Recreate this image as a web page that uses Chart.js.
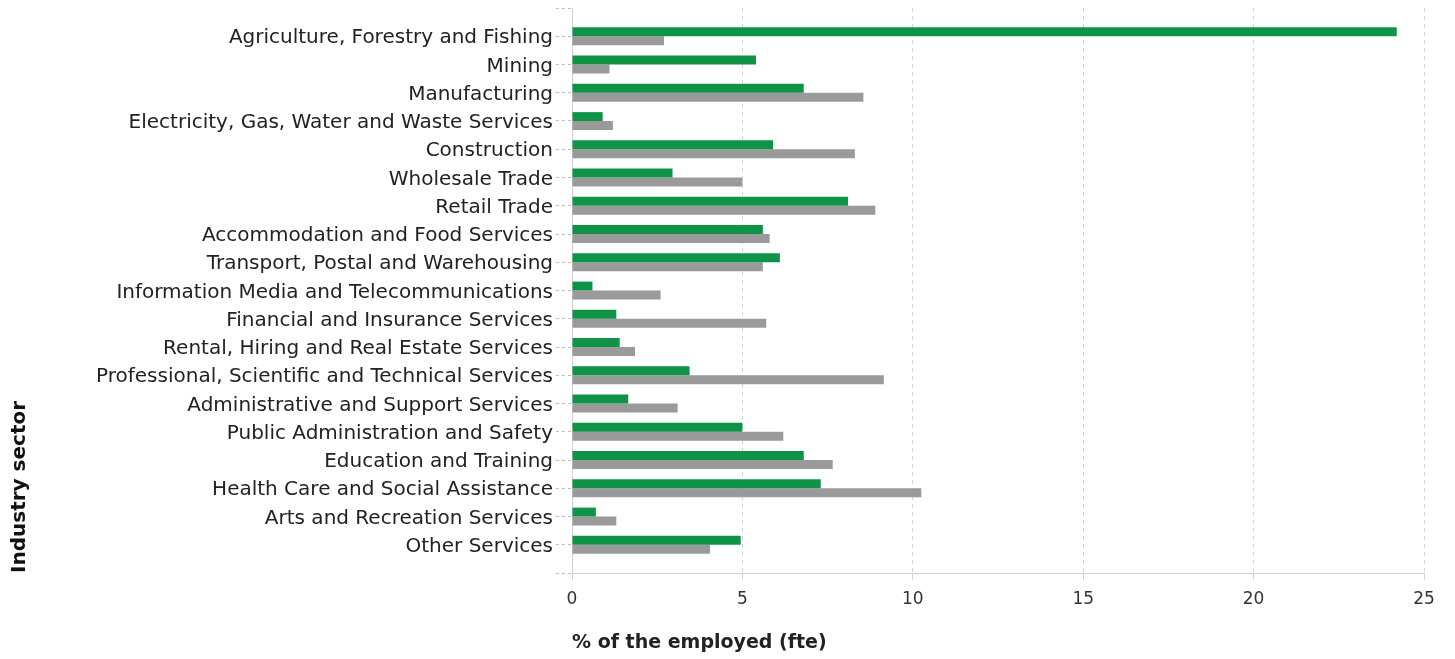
<!DOCTYPE html>
<html>
<head>
<meta charset="utf-8">
<script src="https://cdn.jsdelivr.net/npm/chart.js@4/dist/chart.umd.min.js"></script>
<style>
  html, body { margin: 0; padding: 0; background: #fff; }
  #wrap { width: 1455px; height: 659px; position: relative; }
</style>
</head>
<body>
<div id="wrap"><canvas id="myChart"></canvas></div>
<script>
const sectors = [
  'Agriculture, Forestry and Fishing',
  'Mining',
  'Manufacturing',
  'Electricity, Gas, Water and Waste Services',
  'Construction',
  'Wholesale Trade',
  'Retail Trade',
  'Accommodation and Food Services',
  'Transport, Postal and Warehousing',
  'Information Media and Telecommunications',
  'Financial and Insurance Services',
  'Rental, Hiring and Real Estate Services',
  'Professional, Scientific and Technical Services',
  'Administrative and Support Services',
  'Public Administration and Safety',
  'Education and Training',
  'Health Care and Social Assistance',
  'Arts and Recreation Services',
  'Other Services',
];

// green series (region)
const regionShare = [24.2, 5.4, 6.8, 0.9, 5.9, 2.95, 8.1, 5.6, 6.1, 0.6, 1.3, 1.4, 3.45, 1.65, 5.0, 6.8, 7.3, 0.7, 4.95];
// grey series (comparison)
const compareShare = [2.7, 1.1, 8.55, 1.2, 8.3, 5.0, 8.9, 5.8, 5.6, 2.6, 5.7, 1.85, 9.15, 3.1, 6.2, 7.65, 10.25, 1.3, 4.05];

const xTicks = [0, 5, 10, 15, 20, 25];

const n = sectors.length;
// categories laid on a linear axis so there is one empty slot above and below
const toPoints = (vals) => vals.map((v, i) => ({ x: v, y: n - 1 - i }));

const FONT = 'DejaVu Sans, Verdana, sans-serif';

const ctx = document.getElementById('myChart').getContext('2d');

new Chart(ctx, {
  type: 'bar',
  data: {
    datasets: [
      {
        data: toPoints(regionShare),
        backgroundColor: '#0f9447',
        borderWidth: 0,
        categoryPercentage: 0.63,
        barPercentage: 1,
      },
      {
        data: toPoints(compareShare),
        backgroundColor: '#9a9a9a',
        borderWidth: 0,
        categoryPercentage: 0.63,
        barPercentage: 1,
      },
    ],
  },
  options: {
    indexAxis: 'y',
    responsive: true,
    maintainAspectRatio: false,
    animation: false,
    layout: {
      padding: { top: 8, right: 31, bottom: 0, left: 0 },
    },
    plugins: {
      legend: { display: false },
      tooltip: { enabled: false },
      title: { display: false },
    },
    scales: {
      x: {
        type: 'linear',
        position: 'bottom',
        min: xTicks[0],
        max: xTicks[xTicks.length - 1],
        afterBuildTicks(scale) {
          scale.ticks = xTicks.map((v) => ({ value: v }));
        },
        afterFit(scale) {
          scale.height = 86;
        },
        grid: {
          color: '#d4d4d4',
          lineWidth: 1,
          drawTicks: true,
          tickLength: 7,
          tickColor: '#d4d4d4',
        },
        border: { display: true, color: '#d0d0d0', dash: [4, 4] },
        ticks: {
          color: '#333',
          padding: 9,
          font: { family: FONT, size: 17 },
        },
        title: {
          display: true,
          text: '% of the employed (fte)',
          align: 'start',
          color: '#222',
          padding: { top: 0, bottom: 5 },
          font: { family: FONT, size: 19, weight: 'bold' },
        },
      },
      y: {
        type: 'linear',
        position: 'left',
        min: -1,
        max: n,
        offset: false,
        afterBuildTicks(scale) {
          const t = [];
          for (let v = -1; v <= n; v++) t.push({ value: v });
          scale.ticks = t;
        },
        afterFit(scale) {
          scale.width = 572;
          scale.paddingTop = 0;
          scale.paddingBottom = 0;
        },
        grid: {
          offset: false,
          drawOnChartArea: false,
          drawTicks: true,
          tickLength: 16,
          tickColor: '#bdbdbd',
          tickBorderDash: [3, 3],
        },
        border: { display: true, color: '#d0d0d0' },
        ticks: {
          color: '#222',
          padding: 3,
          labelOffset: 2,
          autoSkip: false,
          font: { family: FONT, size: 20 },
          callback(value) {
            const i = n - 1 - value;
            return i >= 0 && i < n ? sectors[i] : '';
          },
        },
        title: {
          display: true,
          text: 'Industry sector',
          align: 'start',
          color: '#111',
          padding: { top: 8, bottom: 0 },
          font: { family: FONT, size: 20, weight: 'bold' },
        },
      },
    },
  },
});
</script>
</body>
</html>
